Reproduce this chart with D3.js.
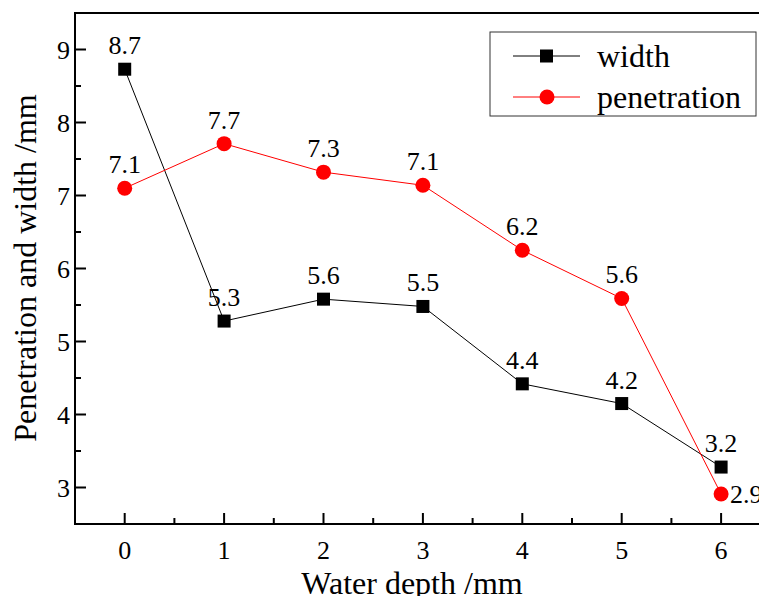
<!DOCTYPE html>
<html><head><meta charset="utf-8">
<script src="https://cdn.jsdelivr.net/npm/d3@7"></script>
<style>body{margin:0;background:#fff;overflow:hidden}svg{display:block}</style>
</head><body>
<script>
const depths = [0, 1, 2, 3, 4, 5, 6];
const widthVals = [8.73, 5.28, 5.58, 5.48, 4.42, 4.15, 3.28];
const widthLabels = ["8.7", "5.3", "5.6", "5.5", "4.4", "4.2", "3.2"];
const penVals = [7.1, 7.71, 7.32, 7.14, 6.25, 5.59, 2.91];
const penLabels = ["7.1", "7.7", "7.3", "7.1", "6.2", "5.6", "2.9"];
const xTicks = [0, 1, 2, 3, 4, 5, 6];
const yTicks = [3, 4, 5, 6, 7, 8, 9];
const seriesNames = ["width", "penetration"];

const FONT = "Liberation Serif";
const W = 759, H = 596;
const svg = d3.select("body").append("svg").attr("width", W).attr("height", H)
  .attr("font-family", FONT);
const L = 75, T = 13, B = 524;
const x = d3.scaleLinear().domain([-0.5, 6.5]).range([L, L + 7 * 99.4]);
const y = d3.scaleLinear().domain([2.5, 9.5]).range([B, T]);

function txt(sel) { return sel.attr("font-family", FONT).attr("fill", "#000"); }

// frame
svg.append("rect").attr("x", L).attr("y", T).attr("width", x(6.5) - L).attr("height", B - T)
  .attr("fill", "none").attr("stroke", "#000").attr("stroke-width", 2);

// x ticks
const xMinor = d3.range(-0.5, 6.51, 0.5).filter(v => !Number.isInteger(v));
svg.selectAll(".xt").data(xTicks).enter().append("line")
  .attr("x1", d => x(d)).attr("x2", d => x(d)).attr("y1", B).attr("y2", B - 11)
  .attr("stroke", "#000").attr("stroke-width", 2);
svg.selectAll(".xm").data(xMinor).enter().append("line")
  .attr("x1", d => x(d)).attr("x2", d => x(d)).attr("y1", B).attr("y2", B - 6)
  .attr("stroke", "#000").attr("stroke-width", 2);
txt(svg.selectAll(".xl").data(xTicks).enter().append("text")
  .attr("x", d => x(d)).attr("y", B + 35).attr("text-anchor", "middle")
  .attr("font-size", 26).text(d => d));

// y ticks
const yMinor = d3.range(2.5, 9.51, 0.5).filter(v => !Number.isInteger(v) && v > 2.5 && v < 9.5);
svg.selectAll(".yt").data(yTicks).enter().append("line")
  .attr("x1", L).attr("x2", L + 11).attr("y1", d => y(d)).attr("y2", d => y(d))
  .attr("stroke", "#000").attr("stroke-width", 2);
svg.selectAll(".ym").data(yMinor).enter().append("line")
  .attr("x1", L).attr("x2", L + 6).attr("y1", d => y(d)).attr("y2", d => y(d))
  .attr("stroke", "#000").attr("stroke-width", 2);
txt(svg.selectAll(".yl").data(yTicks).enter().append("text")
  .attr("x", L - 5).attr("y", d => y(d) + 9).attr("text-anchor", "end")
  .attr("font-size", 26).text(d => d));

// axis titles
txt(svg.append("text").attr("x", 412).attr("y", 594).attr("text-anchor", "middle")
  .attr("font-size", 32).text("Water depth /mm"));
txt(svg.append("text").attr("transform", "translate(36,268) rotate(-90)").attr("text-anchor", "middle")
  .attr("font-size", 32).text("Penetration and width /mm"));

const line = d3.line().x((d, i) => x(depths[i])).y(d => y(d));

svg.append("path").datum(widthVals).attr("d", line).attr("fill", "none").attr("stroke", "#000").attr("stroke-width", 1);
svg.append("path").datum(penVals).attr("d", line).attr("fill", "none").attr("stroke", "#ff0000").attr("stroke-width", 1);

svg.selectAll(".sq").data(widthVals).enter().append("rect")
  .attr("x", (d, i) => x(depths[i]) - 6.5).attr("y", d => y(d) - 6.5)
  .attr("width", 13).attr("height", 13).attr("fill", "#000");
svg.selectAll(".ci").data(penVals).enter().append("circle")
  .attr("cx", (d, i) => x(depths[i])).attr("cy", d => y(d)).attr("r", 7.5).attr("fill", "#ff0000");

// labels
txt(svg.selectAll(".wl").data(widthVals).enter().append("text")
  .attr("x", (d, i) => x(depths[i])).attr("y", d => y(d) - 15).attr("text-anchor", "middle")
  .attr("font-size", 26).text((d, i) => widthLabels[i]));
txt(svg.selectAll(".pl").data(penVals).enter().append("text")
  .attr("x", (d, i) => i === 6 ? x(depths[i]) + 9 : x(depths[i]))
  .attr("y", (d, i) => i === 6 ? y(d) + 9 : y(d) - 15)
  .attr("text-anchor", (d, i) => i === 6 ? "start" : "middle")
  .attr("font-size", 26).text((d, i) => penLabels[i]));

// legend
const lg = svg.append("g");
lg.append("rect").attr("x", 490).attr("y", 32).attr("width", 266).attr("height", 84)
  .attr("fill", "#fff").attr("stroke", "#333").attr("stroke-width", 1);
const colors = ["#000", "#ff0000"];
seriesNames.forEach((n, i) => {
  const cy = 56 + i * 41;
  lg.append("line").attr("x1", 513).attr("x2", 580).attr("y1", cy).attr("y2", cy).attr("stroke", colors[i]).attr("stroke-width", 1);
  if (i === 0) lg.append("rect").attr("x", 540).attr("y", cy - 6.5).attr("width", 13).attr("height", 13).attr("fill", "#000");
  else lg.append("circle").attr("cx", 547).attr("cy", cy).attr("r", 7.5).attr("fill", "#ff0000");
  txt(lg.append("text").attr("x", 597).attr("y", cy + 11).attr("font-size", 32).text(n));
});
</script>
</body></html>
